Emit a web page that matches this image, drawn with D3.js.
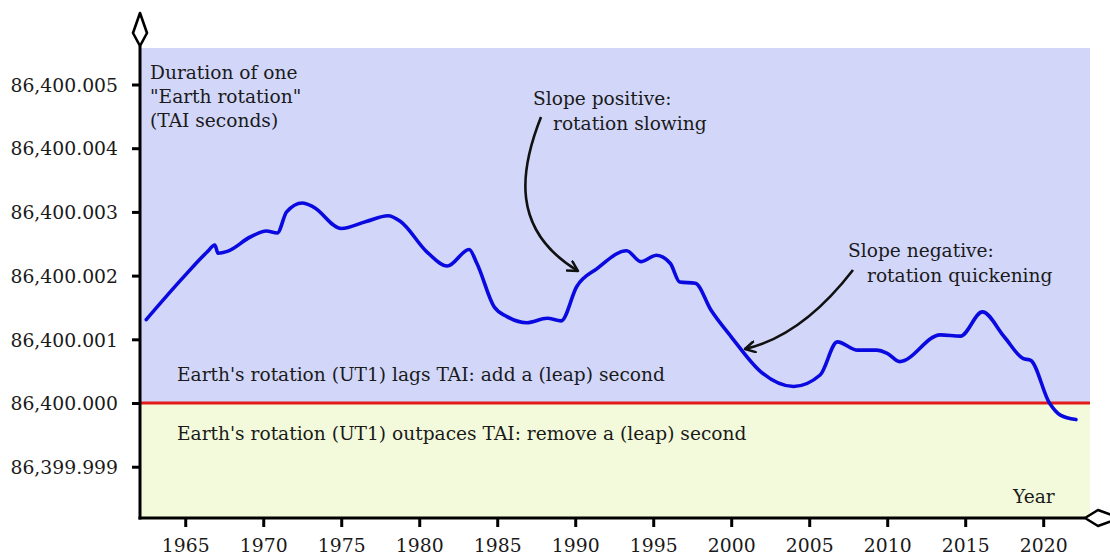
<!DOCTYPE html>
<html>
<head>
<meta charset="utf-8">
<script src="https://d3js.org/d3.v7.min.js"></script>
<style>
  body { margin: 0; background: #fff; }
  text { font-family: "DejaVu Serif", serif; fill: #1a1a1a; }
</style>
</head>
<body>
<div id="chart"></div>
<script>
// Width and height of chart
var width = 1110;
var height = 558;

// Year of each reading and excess length of day (ms above 86,400 s)
var years = [1962.5, 1964.9, 1966.4, 1966.9, 1967.1, 1967.7, 1969.2, 1970.2, 1970.9, 1971.5,
  1972.5, 1973.2, 1975.0, 1976.6, 1978.0, 1978.8, 1980.5, 1981.8, 1983.2, 1983.7,
  1984.8, 1985.6, 1986.9, 1988.2, 1989.1, 1990.1, 1991.4, 1993.3, 1994.2, 1995.2,
  1996.1, 1996.7, 1997.7, 1998.7, 2000.0, 2001.9, 2004.0, 2005.7, 2006.8, 2008.1,
  2009.3, 2010.0, 2010.8, 2013.4, 2014.7, 2016.1, 2017.5, 2018.7, 2019.2, 2020.4,
  2021.1, 2022.1];
var excessMs = [1.31, 1.98, 2.37, 2.48, 2.35, 2.38, 2.61, 2.70, 2.67, 3.00,
  3.14, 3.08, 2.74, 2.85, 2.94, 2.85, 2.37, 2.15, 2.41, 2.19,
  1.51, 1.36, 1.26, 1.33, 1.29, 1.83, 2.11, 2.39, 2.22, 2.32,
  2.19, 1.90, 1.88, 1.46, 1.04, 0.49, 0.26, 0.44, 0.96, 0.83,
  0.83, 0.78, 0.65, 1.07, 1.05, 1.43, 1.04, 0.70, 0.67, 0.0,
  -0.19, -0.26];

// Axis ticks
var xTicks = [1965, 1970, 1975, 1980, 1985, 1990, 1995, 2000, 2005, 2010, 2015, 2020];
var yTicks = [-1, 0, 1, 2, 3, 4, 5];
var yTickLabels = ["86,399.999", "86,400.000", "86,400.001", "86,400.002",
  "86,400.003", "86,400.004", "86,400.005"];

// Scales
var x = d3.scaleLinear()
  .domain([1962.1, 2023.0])
  .range([140, 1090]);
var y = d3.scaleLinear()
  .domain([-1.805, 5.573])
  .range([518, 48]);

var svg = d3.select("#chart")
  .append("svg")
  .attr("width", width)
  .attr("height", height);

// arrow head for the annotations
svg.append("defs").append("marker")
    .attr("id", "head")
    .attr("viewBox", "0 0 12 12")
    .attr("refX", 10)
    .attr("refY", 6)
    .attr("markerWidth", 13)
    .attr("markerHeight", 13)
    .attr("markerUnits", "userSpaceOnUse")
    .attr("orient", "auto")
  .append("path")
    .attr("d", "M1,1 L10,6 L1,11")
    .style("fill", "none")
    .style("stroke", "#111")
    .style("stroke-width", 2.3)
    .style("stroke-linejoin", "round")
    .style("stroke-linecap", "round");

// background bands: above zero = lags, below zero = outpaces
svg.append("rect")
  .attr("x", x.range()[0])
  .attr("y", y.range()[1])
  .attr("width", x.range()[1] - x.range()[0])
  .attr("height", y(0) - y.range()[1])
  .style("fill", "#d2d7fa");
svg.append("rect")
  .attr("x", x.range()[0])
  .attr("y", y(0))
  .attr("width", x.range()[1] - x.range()[0])
  .attr("height", y.range()[0] - y(0))
  .style("fill", "#f3fadb");

// zero line
svg.append("line")
  .attr("x1", x.range()[0])
  .attr("x2", x.range()[1])
  .attr("y1", y(0))
  .attr("y2", y(0))
  .style("stroke", "#e31a1a")
  .style("stroke-width", 3);

// the curve
var line = d3.line()
  .x(function(d, i) { return x(years[i]); })
  .y(function(d) { return y(d); })
  .curve(d3.curveMonotoneX);

svg.append("path")
  .datum(excessMs)
  .attr("d", line)
  .style("fill", "none")
  .style("stroke", "#0a0ae0")
  .style("stroke-width", 3.6)
  .style("stroke-linecap", "round")
  .style("stroke-linejoin", "round");

// axes
var xAxis = d3.axisBottom(x)
  .tickValues(xTicks)
  .tickFormat(d3.format("d"))
  .tickSize(9)
  .tickSizeOuter(0)
  .tickPadding(12);
var yAxis = d3.axisLeft(y)
  .tickValues(yTicks)
  .tickFormat(function(d, i) { return yTickLabels[i]; })
  .tickSize(8)
  .tickSizeOuter(0)
  .tickPadding(14);

var gx = svg.append("g")
  .attr("transform", "translate(0," + y.range()[0] + ")")
  .call(xAxis);
var gy = svg.append("g")
  .attr("transform", "translate(" + x.range()[0] + ",0)")
  .call(yAxis);

[gx, gy].forEach(function(g) {
  g.select(".domain").remove();
  g.selectAll(".tick line")
    .style("stroke", "#000")
    .style("stroke-width", 3);
  g.selectAll(".tick text")
    .style("font-family", "DejaVu Serif, serif")
    .style("font-size", "18.8px")
    .style("fill", "#1a1a1a");
});
gy.selectAll(".tick text").attr("dy", "0.36em");

// axis lines with open arrow heads
svg.append("line")
  .attr("x1", 140).attr("x2", 140)
  .attr("y1", 46).attr("y2", 519.5)
  .style("stroke", "#000").style("stroke-width", 3);
svg.append("line")
  .attr("x1", 138.5).attr("x2", 1085)
  .attr("y1", 518).attr("y2", 518)
  .style("stroke", "#000").style("stroke-width", 3);
svg.append("path")
  .attr("d", "M140,13 L147,33 L140,46 L133,33 Z")
  .style("fill", "#fff").style("stroke", "#000").style("stroke-width", 2.6)
  .style("stroke-linejoin", "round");
svg.append("path")
  .attr("d", "M1085,518 L1098,510 L1120,518 L1098,526 Z")
  .style("fill", "#fff").style("stroke", "#000").style("stroke-width", 2.6)
  .style("stroke-linejoin", "round");

// labels
var labels = [
  { x: 150, y: 79, t: "Duration of one" },
  { x: 150, y: 103, t: "\"Earth rotation\"" },
  { x: 150, y: 127, t: "(TAI seconds)" },
  { x: 533, y: 105, t: "Slope positive:" },
  { x: 553, y: 130, t: "rotation slowing" },
  { x: 848, y: 257, t: "Slope negative:" },
  { x: 867, y: 282, t: "rotation quickening" },
  { x: 177, y: 381, t: "Earth's rotation (UT1) lags TAI: add a (leap) second" },
  { x: 177, y: 440, t: "Earth's rotation (UT1) outpaces TAI: remove a (leap) second" },
  { x: 1013, y: 503, t: "Year" }
];
svg.selectAll("text.label")
  .data(labels)
  .enter()
  .append("text")
    .attr("class", "label")
    .attr("x", function(d) { return d.x; })
    .attr("y", function(d) { return d.y; })
    .style("font-size", "18.6px")
    .text(function(d) { return d.t; });

// annotation arrows
svg.append("path")
  .attr("d", "M541,117 C520,170 510,230 578,271")
  .style("fill", "none").style("stroke", "#111").style("stroke-width", 2.6)
  .attr("marker-end", "url(#head)");
svg.append("path")
  .attr("d", "M853,270 Q802,336 745,349")
  .style("fill", "none").style("stroke", "#111").style("stroke-width", 2.6)
  .attr("marker-end", "url(#head)");
</script>
</body>
</html>
